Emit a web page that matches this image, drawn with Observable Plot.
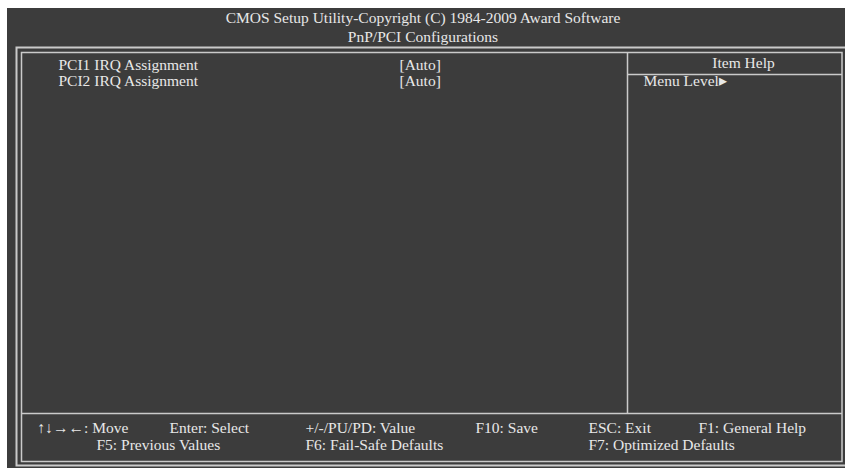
<!DOCTYPE html>
<html>
<head>
<meta charset="utf-8">
<script src="https://cdn.jsdelivr.net/npm/d3@7"></script>
<script src="https://cdn.jsdelivr.net/npm/@observablehq/plot@0.6"></script>
<style>
  html, body { margin: 0; padding: 0; background: #ffffff; }
  svg { display: block; }
</style>
</head>
<body>
<div id="chart"></div>
<script>
// ---- content ----
const titleLines = ["CMOS Setup Utility-Copyright (C) 1984-2009 Award Software", "PnP/PCI Configurations"];
const menuItems = ["PCI1 IRQ Assignment", "PCI2 IRQ Assignment"];
const menuValues = ["[Auto]", "[Auto]"];
const helpHeader = ["Item Help"];
const helpLines = ["Menu Level\u25B8"];
const footerRow1 = ["\u2191\u2193\u2192\u2190: Move", "Enter: Select", "+/-/PU/PD: Value", "F10: Save", "ESC: Exit", "F1: General Help"];
const footerRow2 = ["F5: Previous Values", "F6: Fail-Safe Defaults", "F7: Optimized Defaults"];

// ---- layout (screen grid) ----
const W = 845, H = 468;
const titleY = [22, 41];
const menuRowY = [69, 85];
const helpHeaderY = 67;
const menuX = 58, valueX = 399;
const helpX = 743, helpLineX = 643;
const footerX1 = [37, 169, 305, 475, 588, 698];
const footerX2 = [96, 305, 588];
const footerY = [432, 449];

const fg = "#e8e8e8", line = "#cacaca", bg = "#3c3c3c";
const font = "Liberation Serif, 'Times New Roman', serif";

const menuData = menuItems.map((t, i) => ({label: t, value: menuValues[i], y: menuRowY[i]}));
const titleData = titleLines.map((t, i) => ({t, y: titleY[i]}));
const foot1 = footerRow1.map((t, i) => ({t, x: footerX1[i], y: footerY[0]}));
const foot2 = footerRow2.map((t, i) => ({t, x: footerX2[i], y: footerY[1]}));

const frames = [
  {x1: 16.5, x2: 848, y1: 47.5, y2: 465.5, w: 2},
  {x1: 21.5, x2: 842, y1: 52.5, y2: 461.5, w: 1.5}
];

const txt = {fill: fg, fontFamily: font, fontSize: 15.5, lineAnchor: "bottom", stroke: null};

const chart = Plot.plot({
  width: W, height: H,
  margin: 0,
  x: {domain: [0, W], range: [0, W], axis: null},
  y: {domain: [0, H], range: [0, H], axis: null},
  style: {background: "#ffffff", fontFamily: font},
  marks: [
    Plot.rect([{}], {x1: 7, x2: W, y1: 8, y2: H, fill: bg}),
    Plot.rect(frames, {x1: "x1", x2: "x2", y1: "y1", y2: "y2", fill: "none", stroke: line, strokeWidth: "w"}),
    Plot.ruleY([413], {x1: 21.5, x2: 842, stroke: line, strokeWidth: 1.5}),
    Plot.ruleX([627], {y1: 52.5, y2: 413, stroke: line, strokeWidth: 1.5}),
    Plot.ruleY([74], {x1: 627, x2: 842, stroke: line, strokeWidth: 1.5}),
    Plot.text(titleData, {x: W / 2, y: "y", text: "t", textAnchor: "middle", ...txt}),
    Plot.text(menuData, {x: menuX, y: "y", text: "label", textAnchor: "start", ...txt}),
    Plot.text(menuData, {x: valueX, y: "y", text: "value", textAnchor: "start", ...txt}),
    Plot.text(helpHeader, {x: helpX, y: helpHeaderY, text: d => d, textAnchor: "middle", ...txt}),
    Plot.text(helpLines, {x: helpLineX, y: menuRowY[1], text: d => d, textAnchor: "start", ...txt}),
    Plot.text(foot1, {x: "x", y: "y", text: "t", textAnchor: "start", ...txt}),
    Plot.text(foot2, {x: "x", y: "y", text: "t", textAnchor: "start", ...txt})
  ]
});
document.getElementById("chart").appendChild(chart);
</script>
</body>
</html>
